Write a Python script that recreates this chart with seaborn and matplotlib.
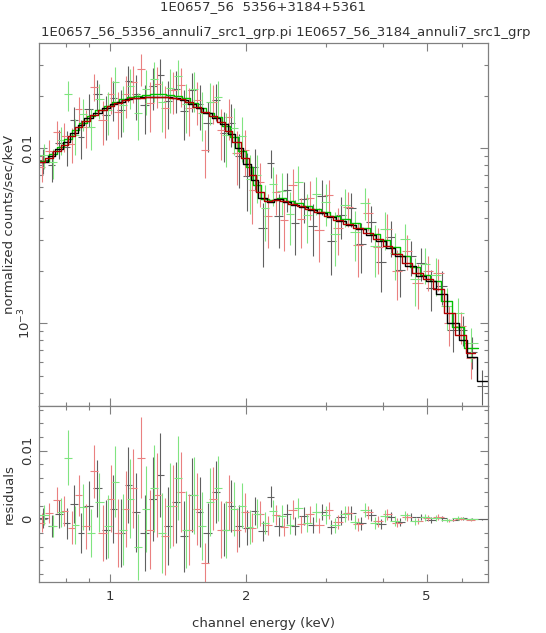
import numpy as np
import pandas as pd
import seaborn as sns
import matplotlib
matplotlib.use('Agg')
import matplotlib.pyplot as plt
from matplotlib.ticker import FixedLocator, FuncFormatter, LogLocator, NullFormatter, MultipleLocator

title_1 = '1E0657_56  5356+3184+5361'
title_2 = '1E0657_56_5356_annuli7_src1_grp.pi 1E0657_56_3184_annuli7_src1_grp'

# channel bin edges in keV; model, residual and error in 1e-3 counts/sec/keV
black_edges = [0.70, 0.73, 0.76, 0.79, 0.82, 0.85, 0.88, 0.92, 0.96, 1.00, 1.04, 1.08, 1.12,
               1.17, 1.22, 1.27, 1.32, 1.37, 1.43, 1.49, 1.55, 1.61, 1.68, 1.75, 1.82, 1.89,
               1.97, 2.05, 2.13, 2.22, 2.31, 2.41, 2.51, 2.62, 2.74, 2.87, 3.01, 3.16, 3.32,
               3.49, 3.67, 3.86, 4.06, 4.27, 4.49, 4.73, 4.98, 5.25, 5.54, 5.88, 6.15, 6.45, 6.83]
black_model = [8.35, 9.0, 9.9, 10.8, 12.3, 13.6, 14.8, 16.0, 17.0, 17.8,
               18.5, 19.1, 19.4, 19.6, 19.7, 19.7, 19.6, 19.4, 18.9, 18.0,
               16.9, 15.9, 14.9, 13.8, 12.0, 10.0, 8.1, 6.6, 5.2, 4.95,
               5.1, 4.95, 4.75, 4.6, 4.42, 4.25, 4.05, 3.85, 3.65, 3.45,
               3.2, 2.95, 2.7, 2.42, 2.12, 1.87, 1.75, 1.48, 1.0, 0.80,
               0.64, 0.47]
black_resid = [0.2, -1.0, 0.8, -0.6, 2.2, -2.0, 2.0, 4.5, -1.5, 1.5,
               -2.0, 5.0, 1.0, -2.0, 3.0, 6.5, -1.0, 2.5, -2.5, 3.5,
               1.0, -2.0, 4.0, -1.5, 2.0, -1.0, -1.2, 1.2, -1.7, 3.3,
               -1.0, 0.8, -1.0, 0.5, -0.8, 1.1, -1.1, 0.3, 0.9, -0.6,
               0.6, -0.7, 0.4, -0.4, 0.3, 0.35, -0.15, 0.15, -0.08, 0.12,
               0.05, -0.03]
black_err = [1.4, 1.6, 2.0, 2.3, 2.8, 2.9, 3.6, 4.2, 4.3, 5.0,
             4.9, 5.6, 5.8, 5.5, 6.1, 6.1, 5.7, 5.9, 5.2, 5.4,
             5.1, 4.4, 4.5, 3.9, 3.8, 3.1, 2.5, 2.1, 1.4, 1.5,
             1.4, 1.45, 1.3, 1.35, 1.2, 1.2, 1.05, 1.1, 1.0, 0.9,
             0.9, 0.75, 0.72, 0.6, 0.55, 0.48, 0.42, 0.36, 0.23, 0.18,
             0.14, 0.10]

red_edges = [0.70, 0.72, 0.75, 0.78, 0.81, 0.84, 0.87, 0.905, 0.945, 0.985, 1.025, 1.065,
             1.105, 1.15, 1.20, 1.25, 1.30, 1.35, 1.41, 1.47, 1.53, 1.59, 1.655, 1.725, 1.795,
             1.865, 1.945, 2.025, 2.105, 2.19, 2.28, 2.38, 2.48, 2.585, 2.70, 2.83, 2.97, 3.11,
             3.27, 3.44, 3.62, 3.80, 4.00, 4.20, 4.42, 4.65, 4.90, 5.16, 5.45, 5.78, 6.10, 6.40]
red_model = [8.3, 8.8, 9.6, 10.5, 11.8, 13.2, 14.3, 15.5, 16.6, 17.5,
             18.2, 18.9, 19.3, 19.5, 19.6, 19.7, 19.6, 19.5, 19.1, 18.4,
             17.3, 16.2, 15.3, 14.2, 12.6, 10.9, 8.8, 7.0, 5.6, 5.0,
             5.05, 5.0, 4.8, 4.65, 4.48, 4.3, 4.1, 3.9, 3.7, 3.5,
             3.27, 3.02, 2.78, 2.5, 2.2, 1.94, 1.78, 1.58, 1.15, 0.86,
             0.68]
red_resid = [-0.5, 0.9, 2.8, 1.2, -1.2, 3.5, -1.0, 7.0, -2.0, 3.0,
             -2.0, 1.5, 4.5, 9.0, -1.5, 3.5, -2.5, 2.0, 4.0, -1.5,
             1.5, -6.4, 3.0, -1.5, 2.5, -1.5, 1.0, -1.2, 0.8, -0.9,
             0.6, -1.1, 1.4, -0.7, 0.7, -0.9, 1.3, -0.4, 0.9, -0.7,
             1.0, -0.3, 0.7, -0.5, 0.4, -0.25, 0.2, 0.35, -0.15, 0.1,
             -0.05]
red_err = [1.4, 1.5, 1.9, 2.2, 2.4, 3.0, 3.3, 3.9, 4.1, 4.9,
           4.9, 5.5, 5.7, 5.9, 5.7, 6.1, 5.6, 5.9, 5.8, 5.2,
           5.2, 3.0, 4.6, 4.1, 4.0, 3.2, 2.9, 2.1, 1.8, 1.4,
           1.5, 1.3, 1.4, 1.25, 1.3, 1.15, 1.2, 1.05, 1.05, 0.95,
           0.92, 0.8, 0.76, 0.64, 0.58, 0.48, 0.45, 0.4, 0.26, 0.2,
           0.15]

green_edges = [0.70, 0.735, 0.765, 0.795, 0.825, 0.855, 0.89, 0.93, 0.97, 1.01, 1.05, 1.09,
               1.13, 1.18, 1.23, 1.28, 1.33, 1.385, 1.445, 1.505, 1.565, 1.63, 1.70, 1.77,
               1.84, 1.915, 1.995, 2.075, 2.16, 2.25, 2.345, 2.445, 2.55, 2.665, 2.79, 2.925,
               3.07, 3.225, 3.39, 3.565, 3.75, 3.945, 4.15, 4.37, 4.60, 4.84, 5.10, 5.38,
               5.70, 6.05, 6.50]
green_model = [8.5, 9.3, 10.2, 11.3, 12.7, 14.0, 15.3, 16.5, 17.5, 18.4,
               19.1, 19.6, 20.0, 20.2, 20.3, 20.3, 20.2, 19.9, 19.3, 18.2,
               17.0, 16.0, 15.1, 13.4, 11.6, 9.7, 7.8, 6.2, 5.15, 5.05,
               5.2, 5.0, 4.85, 4.68, 4.5, 4.32, 4.12, 3.92, 3.72, 3.5,
               3.25, 2.98, 2.72, 2.42, 2.1, 1.88, 1.75, 1.35, 0.95, 0.72]
green_resid = [0.6, -1.0, 1.0, 9.0, -0.8, 1.8, -2.0, 2.5, -1.0, 5.5,
               -1.5, 3.0, -4.0, 1.5, 4.5, -2.0, 2.0, 6.0, -1.5, 3.5,
               -1.0, 2.5, 4.5, -1.5, 1.5, 2.0, -1.1, 0.8, -0.6, 1.2,
               0.5, -0.8, 1.6, -0.5, 1.0, 0.6, -0.9, 0.8, -0.4, 1.4,
               -0.5, 0.5, -0.2, 0.6, -0.3, 0.3, 0.15, -0.1, 0.2, 0.05]
green_err = [1.5, 1.6, 2.1, 4.0, 2.8, 3.3, 3.5, 4.3, 4.6, 5.2,
             5.2, 5.8, 4.8, 6.2, 6.3, 5.9, 6.2, 6.1, 5.6, 5.6,
             5.0, 5.0, 4.7, 4.1, 3.9, 3.3, 2.5, 2.1, 1.6, 1.55,
             1.55, 1.4, 1.45, 1.3, 1.35, 1.3, 1.1, 1.15, 1.05, 1.0,
             0.9, 0.85, 0.75, 0.68, 0.55, 0.5, 0.46, 0.34, 0.24, 0.17]


def make_df(edges, model, resid, err):
    df = pd.DataFrame({'lo': edges[:-1], 'hi': edges[1:],
                       'model': np.array(model) * 1e-3,
                       'resid': np.array(resid) * 1e-3,
                       'err': np.array(err) * 1e-3})
    df['mid'] = (df['lo'] + df['hi']) / 2
    df['data'] = df['model'] + df['resid']
    return df


sets = [
    (make_df(black_edges, black_model, black_resid, black_err), '#606060', '#000000'),
    (make_df(red_edges, red_model, red_resid, red_err), '#ea8080', '#b00000'),
    (make_df(green_edges, green_model, green_resid, green_err), '#80e480', '#00c000'),
]

sns.set_style('ticks')
plt.rcParams['font.family'] = ['DejaVu Sans']
plt.rcParams['font.size'] = 9.5
txt = '#333333'
frame = '#808080'

fig = plt.figure(figsize=(5.46, 6.33), dpi=100)
ax1 = fig.add_axes([0.07198, 0.35861, 0.8218, 0.5730])
ax2 = fig.add_axes([0.07198, 0.08104, 0.8218, 0.27757], sharex=ax1)

ax1.set_xscale('log')
ax1.set_yscale('log')

for df, ecol, mcol in sets:
    xerr = [df['mid'] - df['lo'], df['hi'] - df['mid']]
    ax1.errorbar(df['mid'], df['data'], xerr=xerr, yerr=df['err'], fmt='none',
                 ecolor=ecol, elinewidth=0.8, capsize=0)
    ax2.errorbar(df['mid'], df['resid'], xerr=xerr, yerr=df['err'], fmt='none',
                 ecolor=ecol, elinewidth=0.8, capsize=0)

for df, ecol, mcol in [sets[2], sets[0], sets[1]]:
    sx = list(df['lo']) + [df['hi'].iloc[-1]]
    sy = list(df['model']) + [df['model'].iloc[-1]]
    sns.lineplot(x=sx, y=sy, ax=ax1, color=mcol, lw=1.0, drawstyle='steps-post',
                 estimator=None, sort=False)

ax1.set_xlim(0.70, 6.83)
ax1.set_ylim(3.37e-4, 0.0398)
ax2.set_ylim(-0.0091, 0.01652)

ax1.xaxis.set_major_locator(FixedLocator([1, 2, 5]))
ax1.xaxis.set_minor_locator(FixedLocator([0.8, 0.9, 3, 4, 6]))
ax1.xaxis.set_major_formatter(FuncFormatter(lambda v, p: f'{v:g}'))
ax1.xaxis.set_minor_formatter(NullFormatter())

ax1.yaxis.set_major_locator(LogLocator(base=10))
ax1.yaxis.set_minor_locator(LogLocator(base=10, subs=np.arange(2, 10)))
ax1.yaxis.set_major_formatter(FuncFormatter(
    lambda v, p: '0.01' if abs(v - 0.01) < 1e-9 else r'$10^{-3}$'))
ax1.yaxis.set_minor_formatter(NullFormatter())

ax2.yaxis.set_major_locator(MultipleLocator(0.01))
ax2.yaxis.set_minor_locator(MultipleLocator(0.002))
ax2.yaxis.set_major_formatter(FuncFormatter(lambda v, p: '0' if abs(v) < 1e-9 else f'{v:g}'))

for ax in (ax1, ax2):
    for s in ax.spines.values():
        s.set_color(frame)
        s.set_linewidth(0.9)
    ax.tick_params(which='both', direction='in', top=True, right=True, color=frame,
                   labelcolor=txt, width=0.8)
    ax.tick_params(which='major', length=5.5)
    ax.tick_params(which='minor', length=2.7)
    ax.tick_params(axis='x', pad=6)
    ax.tick_params(axis='y', pad=4, labelrotation=90)
    for lab in ax.get_yticklabels():
        lab.set_va('center')

ax1.tick_params(axis='x', labelbottom=False)
ax1.set_xlabel('')
ax1.set_ylabel('normalized counts/sec/keV', color=txt)
ax1.yaxis.label.set_va('center')
ax1.yaxis.set_label_coords(-0.068, 0.5)
ax2.set_ylabel('residuals', color=txt)
ax2.yaxis.label.set_va('center')
ax2.yaxis.set_label_coords(-0.068, 0.5)
ax2.set_xlabel('channel energy (keV)', color=txt)
ax2.xaxis.label.set_va('center')
ax2.xaxis.set_label_coords(0.5, -0.236)

fig.text(0.4826, 0.9897, title_1, ha='center', va='center', color=txt)
fig.text(0.0751, 0.9494, title_2, ha='left', va='center', color=txt)

fig.savefig('out.png', dpi=100, facecolor='white')
